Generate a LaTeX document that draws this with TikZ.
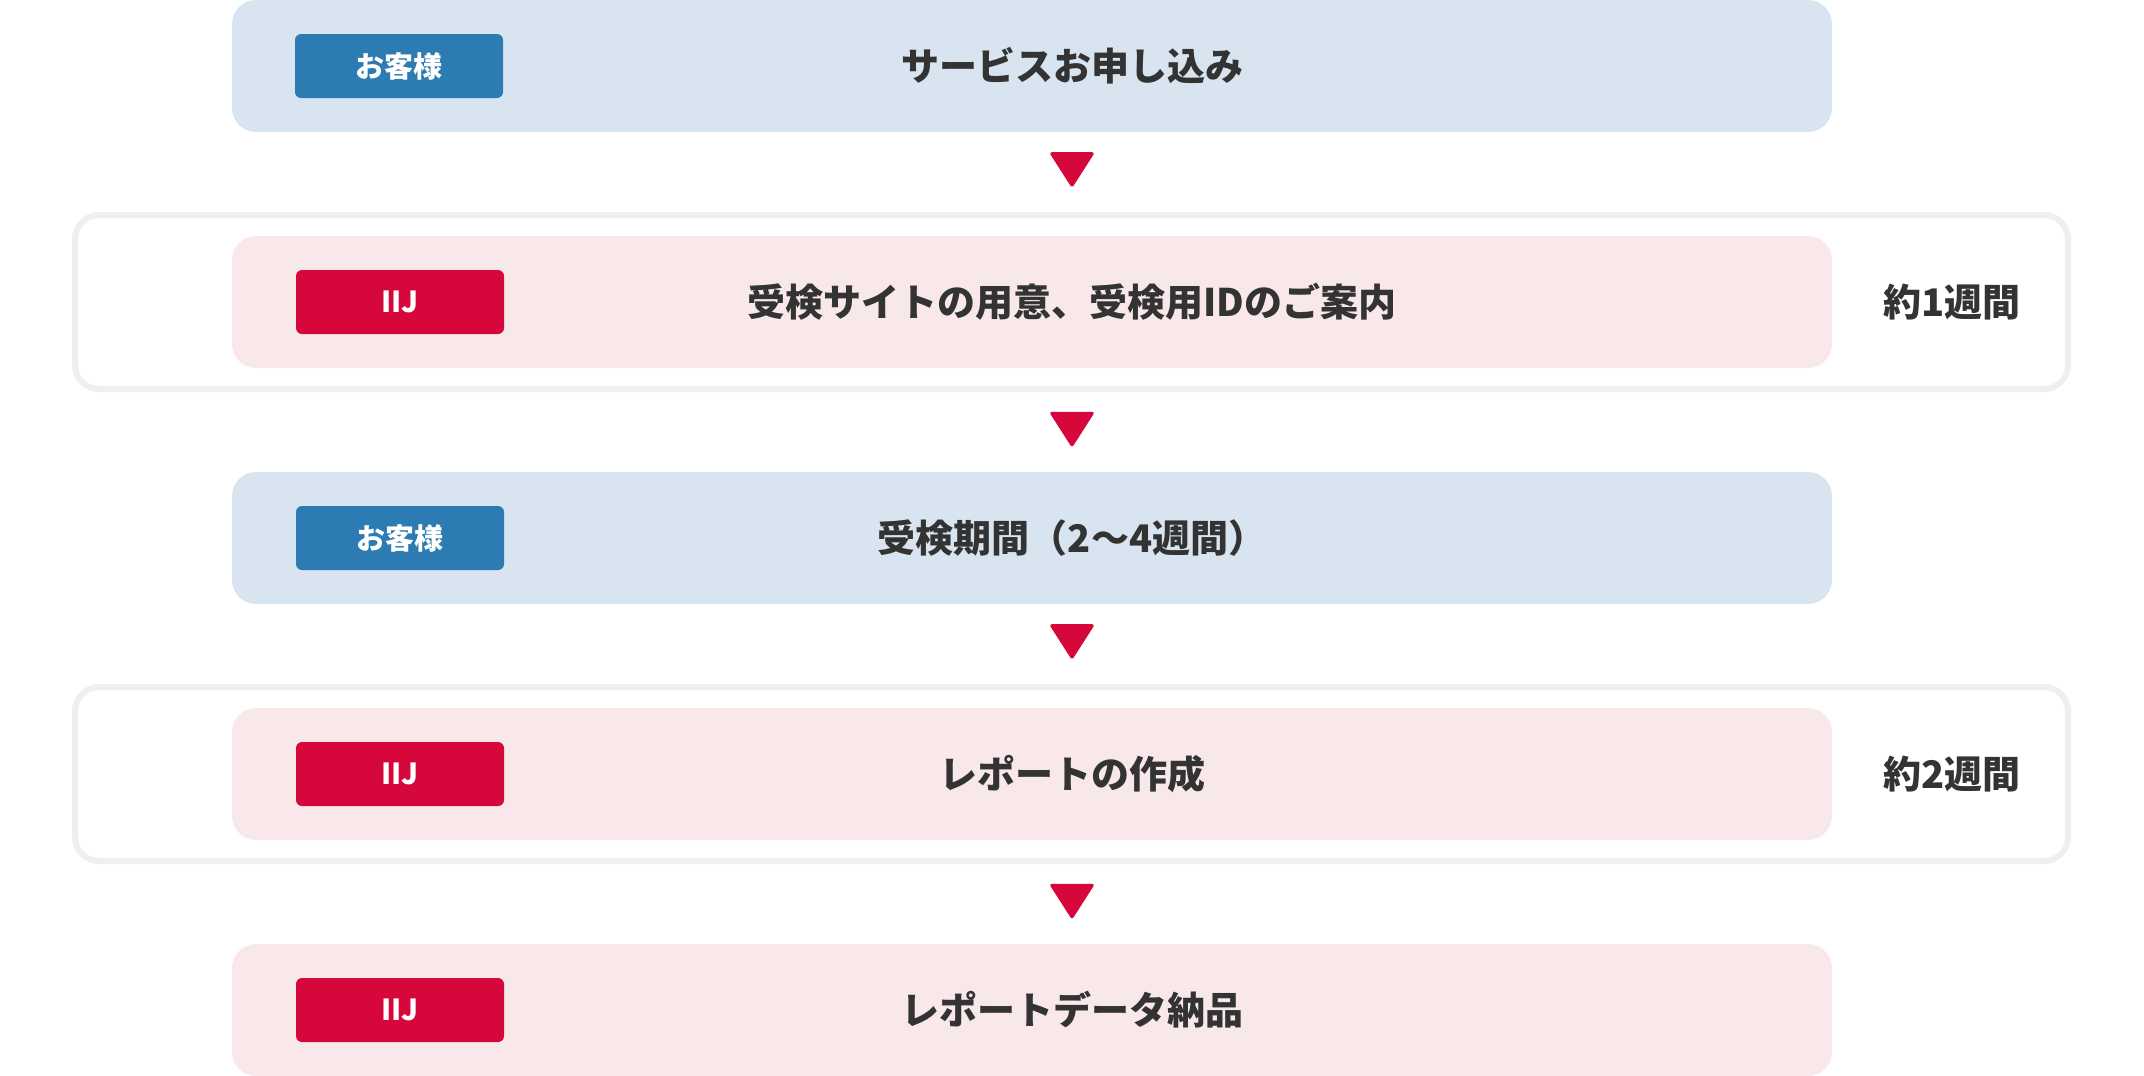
\documentclass[tikz,border=0pt]{standalone}
\usepackage{fontspec}
\setmainfont{Noto Sans CJK JP}
\usepackage{xcolor}
\usetikzlibrary{calc}

\definecolor{custbg}{RGB}{216,229,240}
\definecolor{custbadge}{RGB}{44,123,178}
\definecolor{iijbg}{RGB}{248,232,234}
\definecolor{iijred}{RGB}{214,7,58}
\definecolor{framegray}{RGB}{238,239,241}
\definecolor{textgray}{RGB}{51,51,51}

\tikzset{
  stepbox/.style={rounded corners=12pt,minimum width=800pt,minimum height=66pt,inner sep=0pt},
  custbox/.style={stepbox,fill=custbg},
  iijbox/.style={stepbox,fill=iijbg},
  badge/.style={rounded corners=3pt,minimum width=104pt,minimum height=32pt,inner sep=0pt,
    text=white,font=\bfseries\fontsize{14.5}{14.5}\selectfont},
  custbadge/.style={badge,fill=custbadge},
  iijbadge/.style={badge,fill=iijred},
  steptext/.style={inner sep=0pt,text=textgray,font=\bfseries\fontsize{19}{19}\selectfont},
  frame/.style={draw=framegray,line width=3pt,rounded corners=12pt,minimum width=996.5pt,minimum height=87pt,inner sep=0pt},
}

\begin{document}
\begin{tikzpicture}[x=0.5pt,y=-0.5pt]
            \useasboundingbox (0,0) rectangle (2144,1076);
            % outer frames for the IIJ steps with a duration
            \node (f2) at (1071.5,302) [frame] {};
            \node (f4) at (1071.5,774) [frame] {};
            % step boxes
            \node (b1) at (1032,66) [custbox] {};
            \node (b2) at (1032,302) [iijbox] {};
            \node (b3) at (1032,538) [custbox] {};
            \node (b4) at (1032,774) [iijbox] {};
            \node (b5) at (1032,1010) [iijbox] {};
            % who does it
            \node (g1) at (399,66) [custbadge] {お客様};
            \node (g2) at (400,302) [iijbadge] {IIJ};
            \node (g3) at (400,538) [custbadge] {お客様};
            \node (g4) at (400,774) [iijbadge] {IIJ};
            \node (g5) at (400,1010) [iijbadge] {IIJ};
            % what happens
            \node (t1) at (1072,66) [steptext] {サービスお申し込み};
            \node (t2) at (1072,302) [steptext] {受検サイトの用意、受検用IDのご案内};
            \node (t3) at (1072,538) [steptext] {受検期間（2〜4週間）};
            \node (t4) at (1072,774) [steptext] {レポートの作成};
            \node (t5) at (1072,1010) [steptext] {レポートデータ納品};
            % how long
            \node (d2) at (1952,302) [steptext] {約1週間};
            \node (d4) at (1952,774) [steptext] {約2週間};
            % arrows between the steps
            \coordinate (a1) at ($(b1.south)!0.5!(f2.north)+(20.25,-2)$);
            \coordinate (a2) at ($(f2.south)!0.5!(b3.north)+(20.25,-2)$);
            \coordinate (a3) at ($(b3.south)!0.5!(f4.north)+(20.25,-2)$);
            \coordinate (a4) at ($(f4.south)!0.5!(b5.north)+(20.25,-2)$);
            \fill[iijred,rounded corners=1.5pt] ($(a1)+(-23,-18)$) -- ($(a1)+(23,-18)$) -- ($(a1)+(0,18)$) -- cycle;
            \fill[iijred,rounded corners=1.5pt] ($(a2)+(-23,-18)$) -- ($(a2)+(23,-18)$) -- ($(a2)+(0,18)$) -- cycle;
            \fill[iijred,rounded corners=1.5pt] ($(a3)+(-23,-18)$) -- ($(a3)+(23,-18)$) -- ($(a3)+(0,18)$) -- cycle;
            \fill[iijred,rounded corners=1.5pt] ($(a4)+(-23,-18)$) -- ($(a4)+(23,-18)$) -- ($(a4)+(0,18)$) -- cycle;
        \end{tikzpicture}
\end{document}
